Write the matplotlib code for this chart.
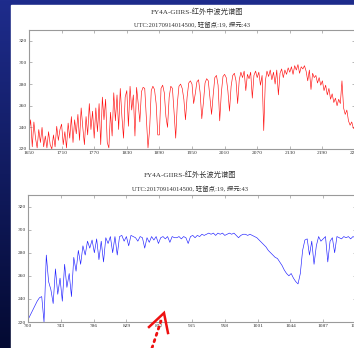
import numpy as np
import matplotlib
matplotlib.use("Agg")
import matplotlib.pyplot as plt
from matplotlib.lines import Line2D
from matplotlib.patches import Rectangle

plt.rcParams['font.family'] = ['Liberation Serif', 'Noto Sans CJK SC', 'DejaVu Sans']

# ---- data ----
title_mw = 'FY4A-GIIRS-红外中波光谱图'
title_lw = 'FY4A-GIIRS-红外长波光谱图'
subtitle = 'UTC:20170914014500, 驻留点:19, 探元:43'

# mid-wave band, wavenumber 1650..2250 step 3
mw_wn = np.arange(1650, 2251, 3)
mw_bt = [236, 247, 222, 245, 230, 221, 238, 226, 240, 222,
         232, 221, 236, 224, 220, 233, 222, 241, 228, 238,
         243, 224, 236, 221, 244, 230, 250, 226, 247, 234,
         252, 228, 258, 240, 224, 250, 233, 262, 238, 255,
         230, 258, 236, 262, 224, 268, 247, 266, 226, 221,
         254, 232, 272, 246, 270, 238, 276, 250, 230, 268,
         274, 241, 278, 256, 270, 232, 277, 262, 245, 273,
         277, 276, 248, 221, 238, 274, 278, 275, 262, 233,
         233, 276, 279, 272, 250, 240, 268, 278, 276, 254,
         230, 262, 278, 280, 276, 266, 247, 268, 281, 283,
         280, 262, 271, 282, 284, 272, 248, 263, 281, 285,
         283, 268, 252, 270, 286, 288, 279, 246, 272, 287,
         289, 286, 274, 255, 278, 288, 290, 283, 262, 284,
         291, 286, 292, 274, 289, 285, 291, 267, 288, 292,
         286, 291, 279, 288, 237, 283, 292, 287, 293, 284,
         291, 280, 293, 270, 290, 294, 286, 293, 289, 295,
         291, 296, 289, 297, 293, 298, 290, 296, 294, 297,
         292, 283, 293, 275, 290, 286, 288, 281, 286, 279,
         283, 274, 279, 270, 276, 266, 271, 263, 267, 260,
         266, 262, 283, 258, 252, 256, 246, 242, 245, 239,
         241]

# long-wave band, wavenumber 700..1129 step 3
lw_wn = np.arange(700, 1131, 3)
lw_bt = [222, 226, 230, 234, 238, 241, 242, 220, 278, 255,
         248, 236, 266, 244, 258, 238, 270, 250, 262, 242,
         276, 264, 282, 270, 286, 278, 290, 284, 291, 280,
         292, 274, 290, 272, 293, 288, 294, 280, 294, 278,
         294, 295, 290, 294, 286, 295, 294, 293, 290, 294,
         293, 284, 293, 289, 294, 291, 294, 288, 293, 294,
         292, 294, 289, 294, 293, 293, 294, 292, 294, 293,
         288, 294, 295, 293, 295, 294, 296, 295, 296, 297,
         296, 297, 295, 297, 296, 297, 295, 296, 297, 296,
         297, 295, 293, 295, 296, 296, 295, 296, 295, 294,
         293, 291, 289, 287, 285, 282, 280, 278, 276, 275,
         272, 269, 265, 262, 260, 262, 258, 255, 253, 262,
         282, 291, 292, 278, 290, 270, 286, 294, 290, 292,
         294, 272, 290, 293, 280, 294, 293, 292, 294, 293,
         294, 292, 294, 293]

W, H = 354, 348
fig = plt.figure(figsize=(W / 100, H / 100), dpi=100)

# slide background: dark blue frame with white picture area
bg = fig.add_axes([0, 0, 1, 1], zorder=-5)
grad = np.linspace(0, 1, 256).reshape(-1, 1)
cmap = matplotlib.colors.LinearSegmentedColormap.from_list('bg', ['#1e2c8c', '#040a32'])
bg.imshow(grad, aspect='auto', cmap=cmap, extent=[0, 1, 0, 1], origin='upper')
bg.add_patch(Rectangle((11 / W, 0), 1, 1 - 5 / H, color='white', transform=bg.transAxes))
bg.set_axis_off()


def fx(px):
    return px / W


def fy(py):
    return 1 - py / H


def style(ax):
    for s in ax.spines.values():
        s.set_color('#9a9a9a')
        s.set_linewidth(0.8)
    ax.tick_params(direction='in', length=2, width=0.5, colors='#9a9a9a',
                   labelcolor='#333333', labelsize=3.9, pad=1.5,
                   top=True, right=True)
    ax.set_yticks([220, 240, 260, 280, 300, 320])
    ax.set_ylim(220, 330)


# top: mid-wave
ax1 = fig.add_axes([fx(29), fy(149), fx(355) - fx(29), fy(30) - fy(149)])
ax1.plot(mw_wn, mw_bt, color='#ff1010', lw=0.45)
ax1.set_xlim(1650, 2250)
ax1.set_xticks(np.linspace(1650, 2250, 11))
ax1.set_xticklabels(['%d' % v for v in np.linspace(1650, 2250, 11)])
style(ax1)

# bottom: long-wave
ax2 = fig.add_axes([fx(28), fy(322), fx(356) - fx(28), fy(195) - fy(322)])
ax2.plot(lw_wn, lw_bt, color='#2020ff', lw=0.45)
ax2.set_xlim(700, 1130)
ax2.set_xticks(np.linspace(700, 1130, 11))
ax2.set_xticklabels(['%d' % v for v in np.linspace(700, 1130, 11)])
style(ax2)

# titles
fig.text(fx(197), fy(11), title_mw, ha='center', va='center', fontsize=5.2, color='#333333')
fig.text(fx(192), fy(25), subtitle, ha='center', va='center', fontsize=4.7, color='#333333')
fig.text(fx(190), fy(174), title_lw, ha='center', va='center', fontsize=5.2, color='#333333')
fig.text(fx(190), fy(189), subtitle, ha='center', va='center', fontsize=4.7, color='#333333')

# red arrow drawn on the slide
fig.add_artist(Line2D([fx(152), fx(161)], [fy(348), fy(321)], color='#ee1111',
                      lw=2.0, linestyle=(0, (0.8, 1.6)), solid_capstyle='round',
                      dash_capstyle='round'))
fig.add_artist(Line2D([fx(149), fx(164), fx(168)], [fy(327), fy(313), fy(333)],
                      color='#ee1111', lw=1.8, solid_joinstyle='miter'))

fig.savefig('out.png', dpi=100)
